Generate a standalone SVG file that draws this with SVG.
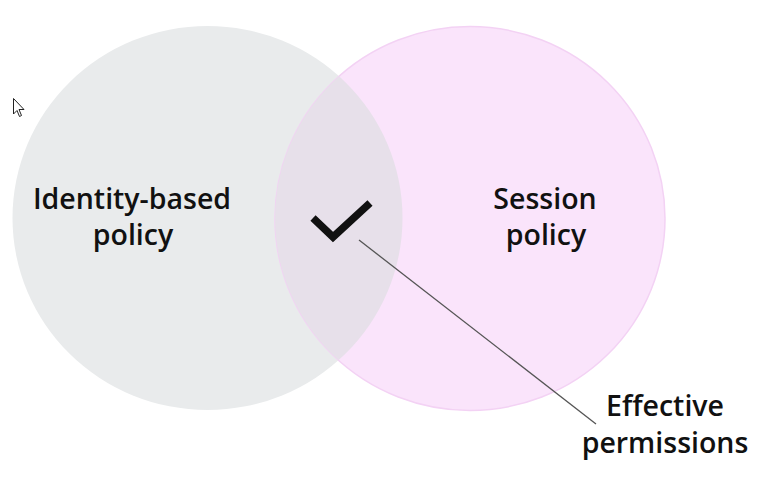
<svg xmlns="http://www.w3.org/2000/svg" width="769" height="485" viewBox="0 0 769 485">
<style>
.lbl{font-family:"Open Sans","Liberation Sans",sans-serif;font-size:28.5px;font-weight:600;fill:#111111;text-anchor:middle}
</style>
<defs>
<clipPath id="clipL"><ellipse cx="207.5" cy="218" rx="195" ry="192"/></clipPath>
</defs>
<rect width="769" height="485" fill="#ffffff"/>
<g id="identity-policy">
<ellipse cx="207.5" cy="218" rx="195" ry="192" fill="#e9ebec"/>
</g>
<g id="session-policy">
<ellipse cx="470" cy="218.5" rx="195" ry="192" fill="#fae4fb" stroke="#f3d2f4" stroke-width="1.5"/>
</g>
<g id="effective-permissions-area">
<ellipse cx="470" cy="218.5" rx="195" ry="192" fill="#e7e0ea" clip-path="url(#clipL)"/>
<path d="M313,218 L333,237 L370,203" fill="none" stroke="#111111" stroke-width="7.5" stroke-linejoin="miter" stroke-linecap="butt"/>
</g>
<g id="connectors">
<line x1="359" y1="240" x2="596" y2="424" stroke="#555555" stroke-width="1.3"/>
</g>
<g id="labels">
<text class="lbl" x="132" y="209">Identity-based</text>
<text class="lbl" x="133" y="245">policy</text>
<text class="lbl" x="545" y="209">Session</text>
<text class="lbl" x="546" y="245">policy</text>
<text class="lbl" x="665" y="416">Effective</text>
<text class="lbl" x="665" y="453">permissions</text>
</g>
<g id="cursor">
<path d="M13.5,98.5 L13.5,114 L17,110.5 L19.5,116.5 L21.5,115.5 L19,109.5 L24,109.5 Z" fill="#ffffff" stroke="#222222" stroke-width="1" stroke-linejoin="miter"/>
</g>
</svg>
